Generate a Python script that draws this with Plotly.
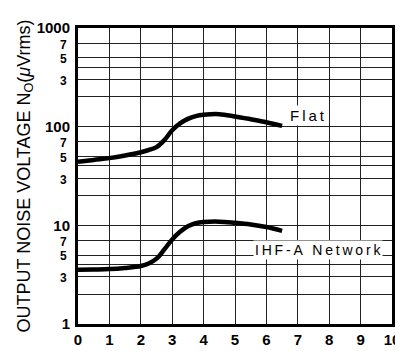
import plotly.graph_objects as go

x_vals = [0, 0.5, 1, 1.5, 2, 2.25, 2.5, 2.75, 3, 3.25, 3.5, 3.75, 4, 4.5, 5, 5.5, 6, 6.5]
flat_vals = [44, 46, 48, 51, 55, 58, 62, 73, 92, 108, 120, 128, 132, 134, 127, 119, 111, 102]
ihf_vals = [3.55, 3.57, 3.6, 3.7, 3.87, 4.1, 4.6, 5.7, 7.2, 8.6, 9.8, 10.5, 10.8, 10.9, 10.6, 10.2, 9.6, 8.8]

x_ticks = list(range(0, 11))
y_ticks = [1, 3, 5, 7, 10, 30, 50, 70, 100, 300, 500, 700, 1000]
y_grid_extra = [2, 4, 20, 40, 200, 400]
y_major = {1: "1", 10: "10", 100: "100", 1000: "1000"}
y_minor = {3: "3", 5: "5", 7: "7", 30: "3", 50: "5", 70: "7", 300: "3", 500: "5", 700: "7"}

def ylabel(v):
    if v in y_major:
        return y_major[v]
    return '<span style="font-size:12px">' + y_minor[v] + ' </span>'

FONT = "Liberation Sans, Arial, sans-serif"
TS = "\u2009"

fig = go.Figure()
fig.add_trace(go.Scatter(x=x_vals, y=flat_vals, mode="lines",
                         line=dict(color="black", width=4.5, shape="spline", smoothing=1.0),
                         showlegend=False))
fig.add_trace(go.Scatter(x=x_vals, y=ihf_vals, mode="lines",
                         line=dict(color="black", width=4.5, shape="spline", smoothing=1.0),
                         showlegend=False))

fig.add_annotation(x=7.3, y=2.11, xref="x", yref="y", text=TS.join("Flat"),
                   showarrow=False, bgcolor="white", borderpad=1,
                   font=dict(family=FONT, size=15, color="black"))
fig.add_annotation(x=7.65, y=0.748, xref="x", yref="y", text=TS.join("IHF-A Network"),
                   showarrow=False, bgcolor="white", borderpad=1,
                   font=dict(family=FONT, size=14, color="black"))

fig.add_annotation(x=0, y=0.5, xref="paper", yref="paper", xanchor="right", yanchor="middle",
                   xshift=-40, textangle=-90, showarrow=False,
                   text="OUTPUT NOISE VOLTAGE N<sub>O</sub>(<i>\u03bc</i>Vrms)",
                   font=dict(family=FONT, size=18, color="black"))

fig.update_xaxes(range=[0, 10], tickvals=x_ticks, ticktext=[str(t) for t in x_ticks],
                 showgrid=True, gridcolor="#222", gridwidth=1.3,
                 showline=True, linecolor="black", linewidth=3, mirror=True,
                 ticks="", zeroline=False,
                 tickfont=dict(family=FONT, size=15, color="black", weight="bold"))
fig.update_yaxes(type="log", range=[0, 3], tickvals=y_ticks, ticktext=[ylabel(v) for v in y_ticks],
                 showgrid=True, gridcolor="#222", gridwidth=1.3,
                 minor=dict(tickvals=y_grid_extra, showgrid=True, gridcolor="#222", gridwidth=1.3, ticks=""),
                 showline=True, linecolor="black", linewidth=3, mirror=True,
                 ticks="", zeroline=False, ticklabelstandoff=2,
                 tickfont=dict(family=FONT, size=15, color="black", weight="bold"))

fig.update_layout(width=403, height=351, margin=dict(l=70, r=11, t=15, b=19),
                  plot_bgcolor="white", paper_bgcolor="white")

fig.write_html("out.html")
